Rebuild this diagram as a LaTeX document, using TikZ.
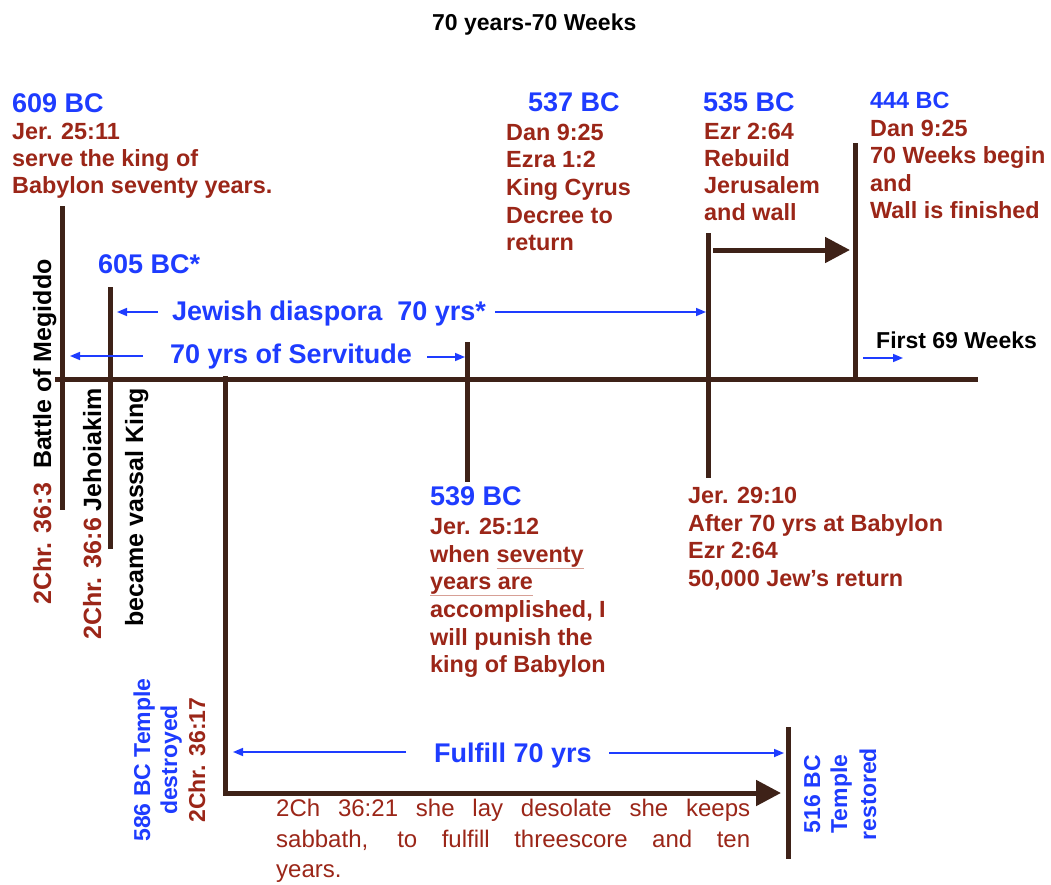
\documentclass[tikz,border=0pt]{standalone}
\usepackage{fontspec}
\setmainfont{Liberation Sans}
\usetikzlibrary{arrows.meta}
\definecolor{bluec}{RGB}{30,60,255}
\definecolor{redc}{RGB}{155,38,24}
\definecolor{brownc}{RGB}{62,34,24}
\definecolor{ulc}{RGB}{215,160,150}
\begin{document}
\begin{tikzpicture}[x=1pt,y=-1pt,
  txt/.style={inner sep=0pt, anchor=base west},
  bluebig/.style={txt, text=bluec, font=\bfseries\fontsize{27}{32}\selectfont},
  bluemid/.style={txt, text=bluec, font=\bfseries\fontsize{23.4}{28}\selectfont},
  redtxt/.style={txt, text=redc, font=\bfseries\fontsize{23.4}{28}\selectfont},
  blacktxt/.style={txt, text=black, font=\bfseries\fontsize{23}{28}\selectfont},
  sidetxt/.style={inner sep=0pt, anchor=base west, rotate=90, text=black, font=\bfseries\fontsize{25}{30}\selectfont},
  rotblock/.style={inner sep=0pt, anchor=base, rotate=90, font=\bfseries\fontsize{23}{28}\selectfont},
  plaintxt/.style={txt, text=redc, font=\fontsize{24}{29}\selectfont},
  bar/.style={draw=brownc, line width=5pt},
  bigarrow/.style={bar, -{Triangle[length=25pt,width=25pt]}},
  thinarrow/.style={draw=bluec, line width=1.6pt, -{Triangle[length=10pt,width=8pt]}},
]
\useasboundingbox (0,0) rectangle (1051,884);
\fill[white] (0,0) rectangle (1051,884);

% title
\node[blacktxt] (title) at (432,30) {70 years-70 Weeks};

% main timeline
\coordinate (mainL) at (55,379);
\coordinate (mainR) at (978,379);
\draw[bar] (mainL) -- (mainR);

% vertical bars
\coordinate (v609t) at (62,206);  \coordinate (v609b) at (62,510);
\coordinate (v605t) at (110,287); \coordinate (v605b) at (110,549);
\coordinate (v586t) at (225,376); \coordinate (v586c) at (225,793); \coordinate (v586e) at (781,793);
\coordinate (v539t) at (467,342); \coordinate (v539b) at (467,482);
\coordinate (v535t) at (708,233); \coordinate (v535b) at (708,478);
\coordinate (v444t) at (855,143); \coordinate (v444b) at (855,379);
\coordinate (v516t) at (788,727); \coordinate (v516b) at (788,859);
\coordinate (a535s) at (713,250); \coordinate (a535e) at (850,250);
\draw[bar] (v609t) -- (v609b);
\draw[bar] (v605t) -- (v605b);
\draw[bar] (v539t) -- (v539b);
\draw[bar] (v535t) -- (v535b);
\draw[bar] (v444t) -- (v444b);
\draw[bar] (v516t) -- (v516b);
\draw[bigarrow] (v586t) -- (v586c) -- (v586e);
\draw[bigarrow] (a535s) -- (a535e);

% blue span arrows
\coordinate (jdL0) at (158,312); \coordinate (jdL1) at (117,312);
\coordinate (jdR0) at (495,312); \coordinate (jdR1) at (706,312);
\coordinate (svL0) at (143,356); \coordinate (svL1) at (70,356);
\coordinate (svR0) at (427,357); \coordinate (svR1) at (465,357);
\coordinate (fwR0) at (863,358); \coordinate (fwR1) at (903,358);
\coordinate (ffL0) at (406,752); \coordinate (ffL1) at (233,752);
\coordinate (ffR0) at (609,753); \coordinate (ffR1) at (784,753);
\draw[thinarrow] (jdL0) -- (jdL1);
\draw[thinarrow] (jdR0) -- (jdR1);
\draw[thinarrow] (svL0) -- (svL1);
\draw[thinarrow] (svR0) -- (svR1);
\draw[thinarrow] (fwR0) -- (fwR1);
\draw[thinarrow] (ffL0) -- (ffL1);
\draw[thinarrow] (ffR0) -- (ffR1);

\node[bluebig] (jewish) at (172,320) {Jewish diaspora\ \ 70 yrs*};
\node[bluebig] (servitude) at (170,363) {70 yrs of Servitude};
\node[bluebig] (fulfill) at (434,762) {Fulfill 70 yrs};
\node[blacktxt] (first69) at (876,348) {First 69 Weeks};

% 609 BC
\node[bluebig] (b609) at (12,112) {609 BC};
\node[redtxt] (r609a) at (12,139) {Jer. 25:11};
\node[redtxt] (r609b) at (12,166) {serve the king of};
\node[redtxt] (r609c) at (12,193) {Babylon seventy years.};

% 605 BC
\node[bluebig] (b605) at (98,273) {605 BC*};

% 537 BC
\node[bluebig] (b537) at (528,111) {537 BC};
\node[redtxt] (r537a) at (506,140) {Dan 9:25};
\node[redtxt] (r537b) at (506,167) {Ezra 1:2};
\node[redtxt] (r537c) at (506,195) {King Cyrus};
\node[redtxt] (r537d) at (506,223) {Decree to};
\node[redtxt] (r537e) at (506,250) {return};

% 535 BC
\node[bluebig] (b535) at (703,111) {535 BC};
\node[redtxt] (r535a) at (704,139) {Ezr 2:64};
\node[redtxt] (r535b) at (704,166) {Rebuild};
\node[redtxt] (r535c) at (704,193) {Jerusalem};
\node[redtxt] (r535d) at (704,220) {and wall};

% 444 BC
\node[bluemid] (b444) at (870,108) {444 BC};
\node[redtxt] (r444a) at (870,136) {Dan 9:25};
\node[redtxt] (r444b) at (870,163) {70 Weeks begin};
\node[redtxt] (r444c) at (870,191) {and};
\node[redtxt] (r444d) at (870,218) {Wall is finished};

% 539 BC
\node[bluebig] (b539) at (430,505) {539 BC};
\node[redtxt] (r539a) at (430,534) {Jer. 25:12};
\node[redtxt] (r539b) at (430,562) {when {\color{ulc}\underline{\textcolor{redc}{seventy}}}};
\node[redtxt] (r539c) at (430,589) {{\color{ulc}\underline{\textcolor{redc}{years are}}}};
\node[redtxt] (r539d) at (430,617) {accomplished, I};
\node[redtxt] (r539e) at (430,645) {will punish the};
\node[redtxt] (r539f) at (430,672) {king of Babylon};

% Jer 29:10
\node[redtxt] (r2910a) at (688,503) {Jer. 29:10};
\node[redtxt] (r2910b) at (688,531) {After 70 yrs at Babylon};
\node[redtxt] (r2910c) at (688,558) {Ezr 2:64};
\node[redtxt] (r2910d) at (688,586) {50,000 Jew’s return};

% left rotated labels
\node[sidetxt] (megiddo) at (51,605) {\textcolor{redc}{2Chr. 36:3}\hskip 14pt Battle of Megiddo};
\node[sidetxt] (jehoiakim) at (101,640) {\textcolor{redc}{2Chr. 36:6} Jehoiakim};
\node[sidetxt] (vassal) at (143,627) {became vassal King};

% 586 BC block
\node[rotblock, text=bluec] (t586a) at (150,760) {586 BC Temple};
\node[rotblock, text=bluec] (t586b) at (177,760) {destroyed};
\node[rotblock, text=redc] (t586c) at (205,760) {2Chr. 36:17};

% 516 BC block
\node[rotblock, text=bluec] (t516a) at (820,794) {516 BC};
\node[rotblock, text=bluec] (t516b) at (847,794) {Temple};
\node[rotblock, text=bluec] (t516c) at (876,794) {restored};

% bottom justified text
\node[plaintxt] (q1) at (276,816) {\makebox[474pt][s]{2Ch 36:21 she lay desolate she keeps}};
\node[plaintxt] (q2) at (276,847) {\makebox[474pt][s]{sabbath, to fulfill threescore and ten}};
\node[plaintxt] (q3) at (276,877) {years.};
\end{tikzpicture}
\end{document}
